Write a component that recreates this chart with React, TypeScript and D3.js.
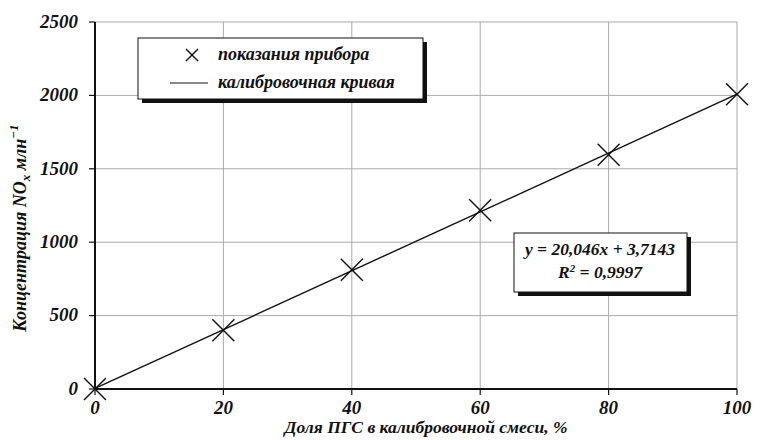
import React from "react";
import * as d3 from "d3";

const xValues = [0, 20, 40, 60, 80, 100];
const yValues = [0, 400, 812, 1218, 1595, 2008];
const xTicks = [0, 20, 40, 60, 80, 100];
const yTicks = [0, 500, 1000, 1500, 2000, 2500];
const slope = 20.046;
const intercept = 3.7143;
const legendLabels = ["показания прибора", "калибровочная кривая"];

const W = 760, H = 440;
const M = { left: 95, right: 23, top: 22, bottom: 51 };
const font = "Liberation Serif, Times New Roman, serif";

export default function App() {
  const x = d3.scaleLinear().domain([0, 100]).range([M.left, W - M.right]);
  const y = d3.scaleLinear().domain([0, 2500]).range([H - M.bottom, M.top]);
  const line = d3.line<number>().x((d) => x(d)).y((d) => y(slope * d + intercept));
  const ms = 11;
  const cross = (cx: number, cy: number, s: number, key: any) => (
    <g key={key} stroke="#111" strokeWidth={1.4}>
      <line x1={cx - s} y1={cy - s} x2={cx + s} y2={cy + s} />
      <line x1={cx - s} y1={cy + s} x2={cx + s} y2={cy - s} />
    </g>
  );
  const textStyle = { fontFamily: font, fontWeight: "bold" as const, fontStyle: "italic" as const };
  return (
    <svg width={W} height={H} style={{ position: "absolute", left: 0, top: 0, background: "#fff" }}>
      <rect width={W} height={H} fill="#fff" />
      {/* grid */}
      {xTicks.filter((t) => t > 0).map((t) => (
        <line key={"gx" + t} x1={x(t)} x2={x(t)} y1={y(2500)} y2={y(0)} stroke="#aaa" strokeWidth={1} />
      ))}
      {yTicks.filter((t) => t > 0).map((t) => (
        <line key={"gy" + t} x1={x(0)} x2={x(100)} y1={y(t)} y2={y(t)} stroke="#aaa" strokeWidth={1} />
      ))}
      {/* axes */}
      <line x1={x(0)} x2={x(0)} y1={y(2500)} y2={y(0)} stroke="#111" strokeWidth={2} />
      <line x1={x(0)} x2={x(100)} y1={y(0)} y2={y(0)} stroke="#111" strokeWidth={2} />
      {yTicks.map((t) => (
        <g key={"yt" + t}>
          <line x1={x(0) - 6} x2={x(0)} y1={y(t)} y2={y(t)} stroke="#111" strokeWidth={1.2} />
          <text x={x(0) - 17} y={y(t)} dy="0.3em" textAnchor="end" fontSize={19} {...textStyle} fill="#111">{t}</text>
        </g>
      ))}
      {xTicks.map((t) => (
        <g key={"xt" + t}>
          <line x1={x(t)} x2={x(t)} y1={y(0)} y2={y(0) + 6} stroke="#111" strokeWidth={1.2} />
          <text x={x(t)} y={y(0) + 25} textAnchor="middle" fontSize={19} {...textStyle} fill="#111">{t}</text>
        </g>
      ))}
      {/* fit line */}
      <path d={line([0, 100]) || ""} stroke="#111" strokeWidth={1.4} fill="none" />
      {xValues.map((xv, i) => cross(x(xv), y(yValues[i]), ms, i))}
      {/* legend */}
      <rect x={142} y={42} width={285} height={61} fill="#111" />
      <rect x={138} y={38} width={285} height={61} fill="#fff" stroke="#111" strokeWidth={1} />
      {cross(192, 55, 6, "lg")}
      <text x={218} y={55} dy="0.3em" fontSize={18} {...textStyle} fill="#111">{legendLabels[0]}</text>
      <line x1={170} x2={208} y1={83} y2={83} stroke="#111" strokeWidth={1.2} />
      <text x={218} y={83} dy="0.3em" fontSize={18} {...textStyle} fill="#111">{legendLabels[1]}</text>
      {/* equation box */}
      <rect x={518} y={237} width={173} height={59} fill="#111" />
      <rect x={514} y={233} width={173} height={59} fill="#fff" stroke="#111" strokeWidth={1} />
      <text x={600} y={249} dy="0.35em" textAnchor="middle" fontSize={17.5} {...textStyle} fill="#111">
        y = 20,046x + 3,7143
      </text>
      <text x={600} y={272} dy="0.35em" textAnchor="middle" fontSize={17.5} {...textStyle} fill="#111">
        R<tspan dy="-6" fontSize={11}>2</tspan><tspan dy="6"> = 0,9997</tspan>
      </text>
      {/* axis titles */}
      <text x={426} y={433} textAnchor="middle" fontSize={17.5} {...textStyle} fill="#111">
        Доля ПГС в калибровочной смеси, %
      </text>
      <text transform={`translate(26,${228}) rotate(-90)`} textAnchor="middle" fontSize={18} {...textStyle} fill="#111">
        Концентрация NO<tspan dy="4" fontSize={13}>x</tspan><tspan dy="-4"> млн</tspan><tspan dy="-8" fontSize={13}>−1</tspan>
      </text>
    </svg>
  );
}
